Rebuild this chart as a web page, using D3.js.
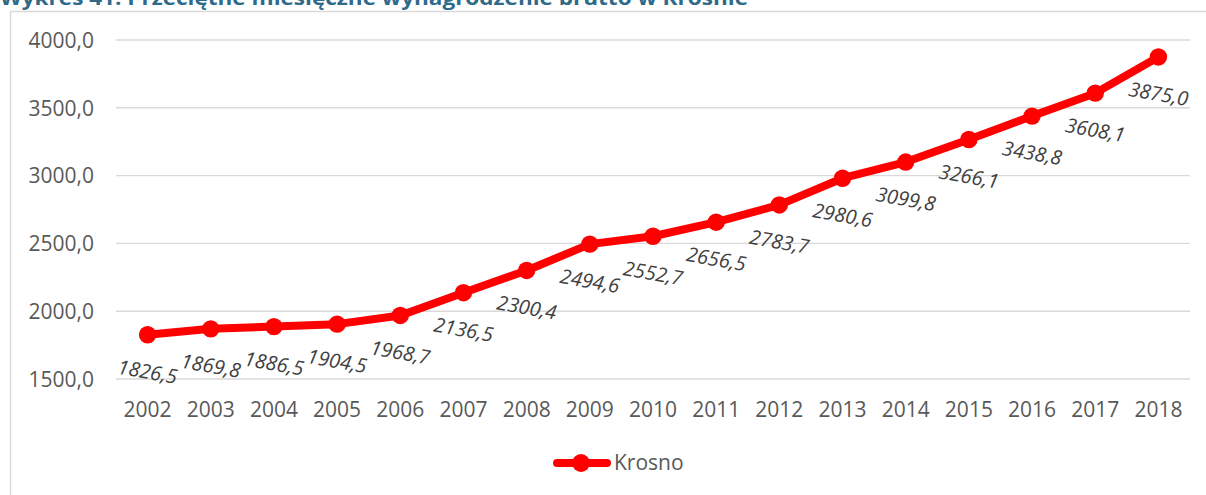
<!DOCTYPE html>
<html>
<head>
<meta charset="utf-8">
<script src="https://cdn.jsdelivr.net/npm/d3@7"></script>
<style>
  html, body { margin: 0; padding: 0; background: #fff; }
  svg { display: block; }
</style>
</head>
<body>
<svg id="chart" width="1206" height="495"></svg>
<script>
const titleText = "Wykres 41. Przeciętne miesięczne wynagrodzenie brutto w Krośnie";
const years = ["2002","2003","2004","2005","2006","2007","2008","2009","2010","2011","2012","2013","2014","2015","2016","2017","2018"];
const values = [1826.5,1869.8,1886.5,1904.5,1968.7,2136.5,2300.4,2494.6,2552.7,2656.5,2783.7,2980.6,3099.8,3266.1,3438.8,3608.1,3875.0];
const yTicks = [1500,2000,2500,3000,3500,4000];
const seriesName = "Krosno";

const fmt = v => v.toFixed(1).replace(".", ",");
const svg = d3.select("#chart");
const font = "'Open Sans', 'Noto Sans', sans-serif";

// chart area border
svg.append("rect")
  .attr("x", 10.5).attr("y", 11.5).attr("width", 1400).attr("height", 700)
  .attr("fill", "none").attr("stroke", "#d9d9d9").attr("stroke-width", 1.5);

// title (clipped at top, as in the reference)
svg.append("text")
  .attr("x", 0).attr("y", 4.5)
  .attr("font-family", font).attr("font-weight", 700).attr("font-size", 19.5)
  .attr("fill", "#2f6a8a")
  .attr("textLength", 748).attr("lengthAdjust", "spacingAndGlyphs")
  .text(titleText);

const x = d3.scaleBand().domain(years).range([116, 1190]);
const y = d3.scaleLinear().domain([1500, 4000]).range([379, 40]);

// gridlines
svg.append("g").selectAll("line").data(yTicks).join("line")
  .attr("x1", 116).attr("x2", 1190)
  .attr("y1", d => y(d)).attr("y2", d => y(d))
  .attr("stroke", "#d9d9d9").attr("stroke-width", 1.4);

// y axis labels
const yAxis = d3.axisLeft(y).tickValues(yTicks).tickFormat(fmt).tickSize(0).tickPadding(0);
const gy = svg.append("g").attr("transform", "translate(94,0)").call(yAxis);
gy.select(".domain").remove();
gy.selectAll("text")
  .attr("font-family", font).attr("font-size", 21).attr("fill", "#595959")
  .attr("dy", "0.35em");

// x axis labels
const xAxis = d3.axisBottom(x).tickSize(0).tickPadding(0);
const gx = svg.append("g").attr("transform", "translate(0,402)").call(xAxis);
gx.select(".domain").remove();
gx.selectAll("text")
  .attr("font-family", font).attr("font-size", 21).attr("fill", "#595959")
  .attr("dy", "0.71em");

const cx = d => x(d) + x.bandwidth() / 2;

// line
const line = d3.line().x((d, i) => cx(years[i])).y(d => y(d));
svg.append("path").datum(values)
  .attr("d", line).attr("fill", "none")
  .attr("stroke", "#ff0000").attr("stroke-width", 8)
  .attr("stroke-linejoin", "round").attr("stroke-linecap", "round");

// markers
svg.append("g").selectAll("circle").data(values).join("circle")
  .attr("cx", (d, i) => cx(years[i])).attr("cy", d => y(d))
  .attr("r", 8.7).attr("fill", "#ff0000");

// data labels
svg.append("g").selectAll("text").data(values).join("text")
  .attr("transform", (d, i) => `translate(${cx(years[i])},${y(d) + 37}) rotate(10)`)
  .attr("text-anchor", "middle").attr("dy", "0.35em")
  .attr("font-family", font).attr("font-style", "italic").attr("font-size", 20)
  .attr("fill", "#404040")
  .text(fmt);

// legend
const lg = svg.append("g");
lg.append("line").attr("x1", 557).attr("x2", 607).attr("y1", 463).attr("y2", 463)
  .attr("stroke", "#ff0000").attr("stroke-width", 8).attr("stroke-linecap", "round");
lg.append("circle").attr("cx", 581).attr("cy", 463).attr("r", 9).attr("fill", "#ff0000");
lg.append("text").attr("x", 614).attr("y", 463).attr("dy", "0.35em")
  .attr("font-family", font).attr("font-size", 21).attr("fill", "#595959")
  .text(seriesName);
</script>
</body>
</html>
